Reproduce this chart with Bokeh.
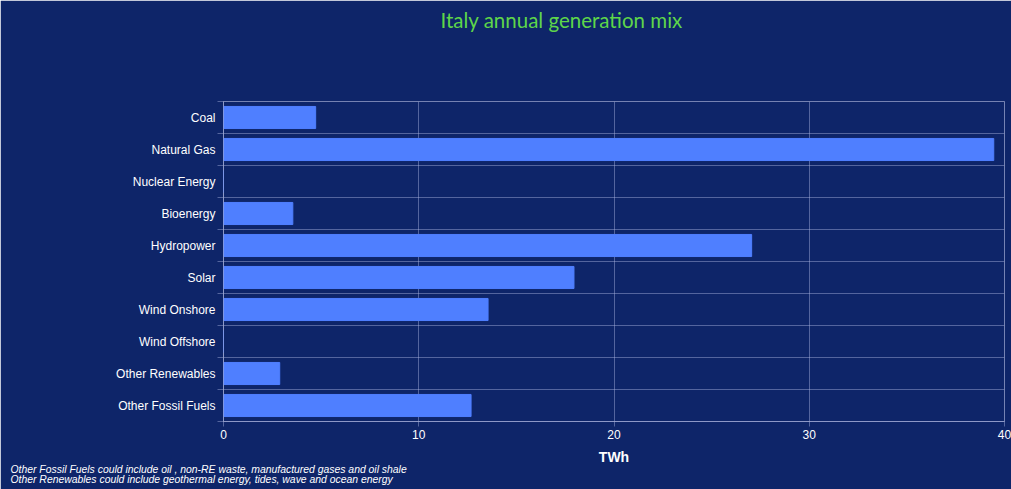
from bokeh.plotting import figure
from bokeh.models import Range1d, FixedTicker, Title
from bokeh.embed import file_html
from bokeh.resources import INLINE

categories = ["Coal", "Natural Gas", "Nuclear Energy", "Bioenergy", "Hydropower",
              "Solar", "Wind Onshore", "Wind Offshore", "Other Renewables", "Other Fossil Fuels"]
values = [4.72, 39.45, 0.0, 3.55, 27.05, 17.95, 13.55, 0.0, 2.88, 12.68]
x_ticks = [0, 10, 20, 30, 40]
title_text = "Italy annual generation mix"
x_label = "TWh"
notes = ["Other Fossil Fuels could include oil , non-RE waste, manufactured gases and oil shale",
         "Other Renewables could include geothermal energy, tides, wave and ocean energy"]

BG = "#0e2569"
BAR = "#4f7fff"
GRID = "#aab3e0"
n = len(categories)
centers = [i + 0.5 for i in range(n)]
bounds = [float(i) for i in range(n + 1)]

p = figure(width=1011, height=489, output_backend="svg", toolbar_location=None,
           x_range=Range1d(0, 40), y_range=Range1d(n, 0),
           min_border_left=223, min_border_right=7, min_border_top=101, min_border_bottom=68)
p.background_fill_color = BG
p.border_fill_color = BG
p.outline_line_color = GRID
p.outline_line_alpha = 0.45

p.title.text = title_text
p.title.text_color = "#5ed64a"
p.title.text_font = "Lato"
p.title.text_font_size = "20.5px"
p.title.text_font_style = "normal"
p.title.align = "left"
p.title.offset = 217
p.title.standoff = 10

# spacer between title and frame
p.add_layout(Title(text=" ", text_font_size="10px", standoff=52, text_color=BG), "above")

p.hbar(y=centers, right=values, left=0, height=0.69, fill_color=BAR, line_color=BAR)

# y axis
ya = p.yaxis[0]
ya.ticker = FixedTicker(ticks=centers, minor_ticks=bounds)
ya.major_label_overrides = {c: lab for c, lab in zip(centers, categories)}
ya.major_label_text_color = "white"
ya.major_label_text_font = "Liberation Sans"
ya.major_label_text_font_size = "12px"
ya.major_tick_line_color = None
ya.minor_tick_in = 0
ya.minor_tick_out = 6
ya.minor_tick_line_color = GRID
ya.minor_tick_line_alpha = 0.45
ya.axis_line_color = GRID
ya.axis_line_alpha = 0.45
ya.major_label_standoff = 2

# x axis
xa = p.xaxis[0]
xa.ticker = FixedTicker(ticks=x_ticks)
xa.major_label_text_color = "white"
xa.major_label_text_font = "Liberation Sans"
xa.major_label_text_font_size = "12px"
xa.major_label_standoff = 3
xa.major_tick_in = 0
xa.major_tick_out = 5
xa.major_tick_line_color = GRID
xa.major_tick_line_alpha = 0.45
xa.minor_tick_line_color = None
xa.axis_line_color = GRID
xa.axis_line_alpha = 0.45
xa.axis_label = x_label
xa.axis_label_text_color = "white"
xa.axis_label_text_font = "Liberation Sans"
xa.axis_label_text_font_size = "14px"
xa.axis_label_text_font_style = "bold"
xa.axis_label_standoff = 7

p.xgrid.ticker = FixedTicker(ticks=x_ticks)
p.xgrid.grid_line_color = GRID
p.xgrid.grid_line_alpha = 0.45
p.ygrid.ticker = FixedTicker(ticks=bounds)
p.ygrid.grid_line_color = GRID
p.ygrid.grid_line_alpha = 0.45

for t, so in zip(notes, [-12, 6]):
    p.add_layout(Title(text=t, align="left", offset=-213, standoff=so,
                       text_color="white", text_font="Liberation Sans", text_font_size="10.4px",
                       text_font_style="italic"), "below")

open("out.html", "w").write(file_html(p, INLINE))
